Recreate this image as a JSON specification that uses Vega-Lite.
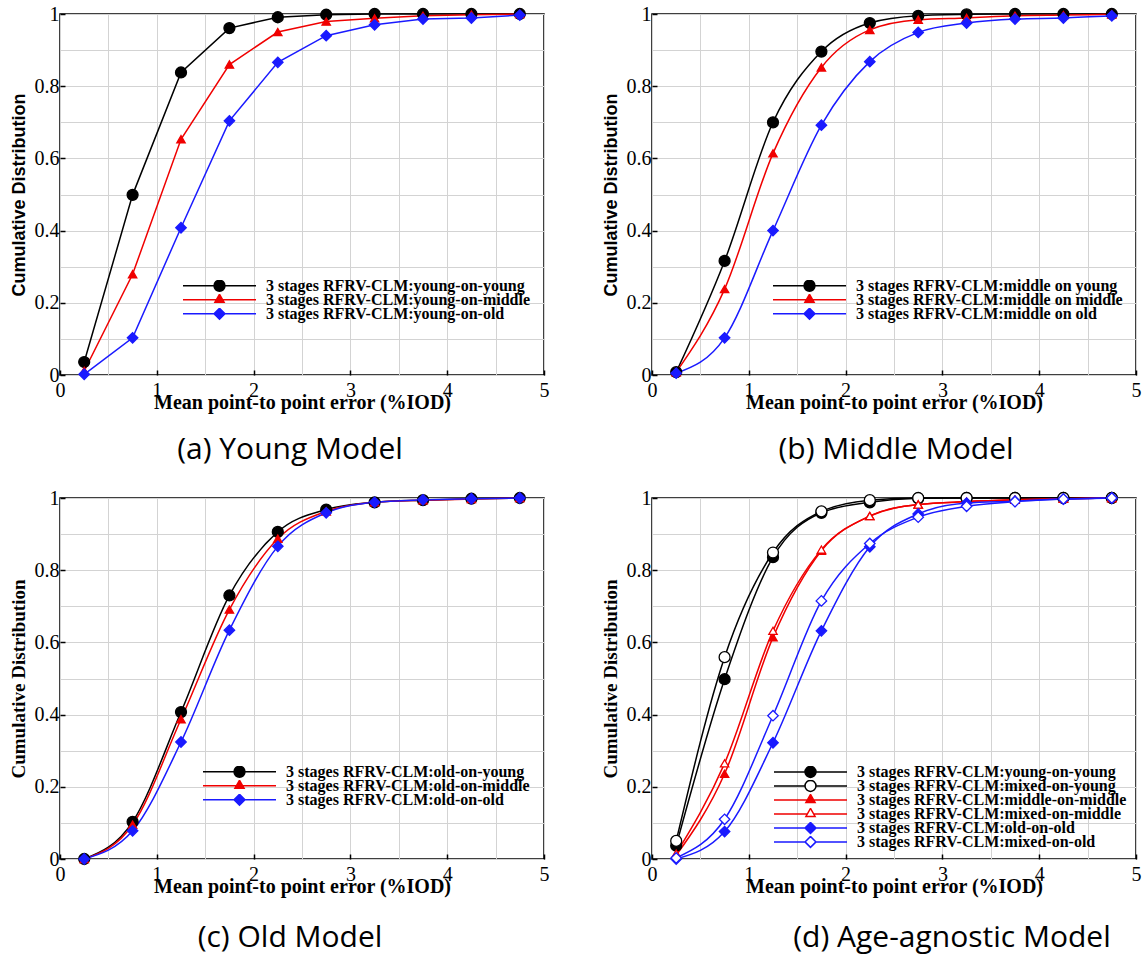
{
  "$schema": "https://vega.github.io/schema/vega-lite/v6.json",
  "background": "white",
  "padding": {"left": 8, "top": 3, "right": 0, "bottom": 10},
  "columns": 2,
  "spacing": {"row": 21, "column": 50},
  "datasets": {
    "a": [
      {"s":"young-on-young","x":0.25,"y":0.036},{"s":"young-on-young","x":0.75,"y":0.499},{"s":"young-on-young","x":1.25,"y":0.838},{"s":"young-on-young","x":1.75,"y":0.961},{"s":"young-on-young","x":2.25,"y":0.991},{"s":"young-on-young","x":2.75,"y":0.998},{"s":"young-on-young","x":3.25,"y":1.0},{"s":"young-on-young","x":3.75,"y":1.0},{"s":"young-on-young","x":4.25,"y":1.0},{"s":"young-on-young","x":4.75,"y":1.0},
      {"s":"young-on-middle","x":0.25,"y":0.011},{"s":"young-on-middle","x":0.75,"y":0.279},{"s":"young-on-middle","x":1.25,"y":0.653},{"s":"young-on-middle","x":1.75,"y":0.86},{"s":"young-on-middle","x":2.25,"y":0.95},{"s":"young-on-middle","x":2.75,"y":0.979},{"s":"young-on-middle","x":3.25,"y":0.988},{"s":"young-on-middle","x":3.75,"y":0.995},{"s":"young-on-middle","x":4.25,"y":0.998},{"s":"young-on-middle","x":4.75,"y":1.0},
      {"s":"young-on-old","x":0.25,"y":0.002},{"s":"young-on-old","x":0.75,"y":0.103},{"s":"young-on-old","x":1.25,"y":0.408},{"s":"young-on-old","x":1.75,"y":0.704},{"s":"young-on-old","x":2.25,"y":0.866},{"s":"young-on-old","x":2.75,"y":0.94},{"s":"young-on-old","x":3.25,"y":0.97},{"s":"young-on-old","x":3.75,"y":0.986},{"s":"young-on-old","x":4.25,"y":0.989},{"s":"young-on-old","x":4.75,"y":0.997}
    ],
    "b": [
      {"s":"middle on young","x":0.25,"y":0.008},{"s":"middle on young","x":0.75,"y":0.316},{"s":"middle on young","x":1.25,"y":0.70},{"s":"middle on young","x":1.75,"y":0.896},{"s":"middle on young","x":2.25,"y":0.975},{"s":"middle on young","x":2.75,"y":0.995},{"s":"middle on young","x":3.25,"y":0.999},{"s":"middle on young","x":3.75,"y":1.0},{"s":"middle on young","x":4.25,"y":1.0},{"s":"middle on young","x":4.75,"y":1.0},
      {"s":"middle on middle","x":0.25,"y":0.008},{"s":"middle on middle","x":0.75,"y":0.238},{"s":"middle on middle","x":1.25,"y":0.614},{"s":"middle on middle","x":1.75,"y":0.852},{"s":"middle on middle","x":2.25,"y":0.956},{"s":"middle on middle","x":2.75,"y":0.984},{"s":"middle on middle","x":3.25,"y":0.989},{"s":"middle on middle","x":3.75,"y":0.995},{"s":"middle on middle","x":4.25,"y":0.997},{"s":"middle on middle","x":4.75,"y":0.999},
      {"s":"middle on old","x":0.25,"y":0.005},{"s":"middle on old","x":0.75,"y":0.103},{"s":"middle on old","x":1.25,"y":0.40},{"s":"middle on old","x":1.75,"y":0.692},{"s":"middle on old","x":2.25,"y":0.868},{"s":"middle on old","x":2.75,"y":0.949},{"s":"middle on old","x":3.25,"y":0.975},{"s":"middle on old","x":3.75,"y":0.986},{"s":"middle on old","x":4.25,"y":0.989},{"s":"middle on old","x":4.75,"y":0.995}
    ],
    "c": [
      {"s":"old-on-young","x":0.25,"y":0.0},{"s":"old-on-young","x":0.75,"y":0.103},{"s":"old-on-young","x":1.25,"y":0.407},{"s":"old-on-young","x":1.75,"y":0.73},{"s":"old-on-young","x":2.25,"y":0.906},{"s":"old-on-young","x":2.75,"y":0.968},{"s":"old-on-young","x":3.25,"y":0.988},{"s":"old-on-young","x":3.75,"y":0.994},{"s":"old-on-young","x":4.25,"y":0.998},{"s":"old-on-young","x":4.75,"y":1.0},
      {"s":"old-on-middle","x":0.25,"y":0.0},{"s":"old-on-middle","x":0.75,"y":0.095},{"s":"old-on-middle","x":1.25,"y":0.387},{"s":"old-on-middle","x":1.75,"y":0.691},{"s":"old-on-middle","x":2.25,"y":0.887},{"s":"old-on-middle","x":2.75,"y":0.963},{"s":"old-on-middle","x":3.25,"y":0.988},{"s":"old-on-middle","x":3.75,"y":0.994},{"s":"old-on-middle","x":4.25,"y":0.997},{"s":"old-on-middle","x":4.75,"y":1.0},
      {"s":"old-on-old","x":0.25,"y":0.0},{"s":"old-on-old","x":0.75,"y":0.078},{"s":"old-on-old","x":1.25,"y":0.324},{"s":"old-on-old","x":1.75,"y":0.634},{"s":"old-on-old","x":2.25,"y":0.866},{"s":"old-on-old","x":2.75,"y":0.959},{"s":"old-on-old","x":3.25,"y":0.988},{"s":"old-on-old","x":3.75,"y":0.995},{"s":"old-on-old","x":4.25,"y":0.998},{"s":"old-on-old","x":4.75,"y":1.0}
    ],
    "d": [
      {"s":"young-on-young","x":0.25,"y":0.037},{"s":"young-on-young","x":0.75,"y":0.498},{"s":"young-on-young","x":1.25,"y":0.836},{"s":"young-on-young","x":1.75,"y":0.959},{"s":"young-on-young","x":2.25,"y":0.988},{"s":"young-on-young","x":2.75,"y":0.999},{"s":"young-on-young","x":3.25,"y":1.0},{"s":"young-on-young","x":3.75,"y":1.0},{"s":"young-on-young","x":4.25,"y":1.0},{"s":"young-on-young","x":4.75,"y":1.0},
      {"s":"mixed-on-young","x":0.25,"y":0.05},{"s":"mixed-on-young","x":0.75,"y":0.559},{"s":"mixed-on-young","x":1.25,"y":0.849},{"s":"mixed-on-young","x":1.75,"y":0.963},{"s":"mixed-on-young","x":2.25,"y":0.994},{"s":"mixed-on-young","x":2.75,"y":1.0},{"s":"mixed-on-young","x":3.25,"y":1.0},{"s":"mixed-on-young","x":3.75,"y":1.0},{"s":"mixed-on-young","x":4.25,"y":1.0},{"s":"mixed-on-young","x":4.75,"y":1.0},
      {"s":"middle-on-middle","x":0.25,"y":0.01},{"s":"middle-on-middle","x":0.75,"y":0.236},{"s":"middle-on-middle","x":1.25,"y":0.614},{"s":"middle-on-middle","x":1.75,"y":0.854},{"s":"middle-on-middle","x":2.25,"y":0.95},{"s":"middle-on-middle","x":2.75,"y":0.982},{"s":"middle-on-middle","x":3.25,"y":0.99},{"s":"middle-on-middle","x":3.75,"y":0.995},{"s":"middle-on-middle","x":4.25,"y":0.998},{"s":"middle-on-middle","x":4.75,"y":1.0},
      {"s":"mixed-on-middle","x":0.25,"y":0.015},{"s":"mixed-on-middle","x":0.75,"y":0.265},{"s":"mixed-on-middle","x":1.25,"y":0.632},{"s":"mixed-on-middle","x":1.75,"y":0.857},{"s":"mixed-on-middle","x":2.25,"y":0.95},{"s":"mixed-on-middle","x":2.75,"y":0.982},{"s":"mixed-on-middle","x":3.25,"y":0.99},{"s":"mixed-on-middle","x":3.75,"y":0.995},{"s":"mixed-on-middle","x":4.25,"y":0.998},{"s":"mixed-on-middle","x":4.75,"y":1.0},
      {"s":"old-on-old","x":0.25,"y":0.0},{"s":"old-on-old","x":0.75,"y":0.076},{"s":"old-on-old","x":1.25,"y":0.322},{"s":"old-on-old","x":1.75,"y":0.632},{"s":"old-on-old","x":2.25,"y":0.865},{"s":"old-on-old","x":2.75,"y":0.956},{"s":"old-on-old","x":3.25,"y":0.986},{"s":"old-on-old","x":3.75,"y":0.991},{"s":"old-on-old","x":4.25,"y":0.997},{"s":"old-on-old","x":4.75,"y":1.0},
      {"s":"mixed-on-old","x":0.25,"y":0.003},{"s":"mixed-on-old","x":0.75,"y":0.11},{"s":"mixed-on-old","x":1.25,"y":0.397},{"s":"mixed-on-old","x":1.75,"y":0.715},{"s":"mixed-on-old","x":2.25,"y":0.874},{"s":"mixed-on-old","x":2.75,"y":0.947},{"s":"mixed-on-old","x":3.25,"y":0.977},{"s":"mixed-on-old","x":3.75,"y":0.99},{"s":"mixed-on-old","x":4.25,"y":0.997},{"s":"mixed-on-old","x":4.75,"y":1.0}
    ]
  },
  "concat": [
    {
      "width": 484, "height": 361,
      "data": {"name": "a"},
      "title": {"text": "(a) Young Model", "orient": "bottom", "dx": -12, "offset": 23},
      "encoding": {
        "x": {"field": "x", "type": "quantitative", "scale": {"domain": [0, 5], "nice": false, "zero": false},
              "axis": {"title": "Mean point-to point error (%IOD)", "values": [0,0.5,1,1.5,2,2.5,3,3.5,4,4.5,5], "labelExpr": "datum.value % 1 == 0 ? format(datum.value, 'd') : ''", "tickOpacity": {"condition": {"test": "datum.value % 1 == 0", "value": 1}, "value": 0}, "labelFlush": false, "labelOverlap": false, "labelPadding": 10, "titlePadding": -8}},
        "y": {"field": "y", "type": "quantitative", "scale": {"domain": [0, 1], "nice": false},
              "axis": {"title": "Cumulative Distribution", "titleFont": "Liberation Sans", "titleFontSize": 18, "values": [0,0.1,0.2,0.3,0.4,0.5,0.6,0.7,0.8,0.9,1], "labelExpr": "round(datum.value*10) % 2 == 0 ? format(datum.value, '~g') : ''", "tickOpacity": {"condition": {"test": "round(datum.value*10) % 2 == 0", "value": 1}, "value": 0}, "labelOverlap": false, "titlePadding": 6}}
      },
      "layer": [
        {"mark": {"type": "line", "strokeWidth": 1.5, "interpolate": "linear"},
         "encoding": {"color": {"field": "s", "type": "nominal",
           "scale": {"domain": ["young-on-young","young-on-middle","young-on-old"], "range": ["#000000","#f00000","#1a1aff"]},
           "legend": {"title": null, "orient": "none", "legendX": 122, "legendY": 266, "clipHeight": 11.5, "rowPadding": -4.5, "padding": 0, "symbolSize": 5329, "symbolStrokeWidth": 1.5, "labelOffset": 9, "labelLimit": 0,
             "labelExpr": "'3 stages RFRV-CLM:' + datum.label",
             "encode": {"symbols": {"update": {
               "shape": {"signal": "['M-1,0H-0.15M0.15,0H1M-0.15,0A0.15,0.15,0,1,1,0.15,0A0.15,0.15,0,1,1,-0.15,0Z','M-1,0H-0.08M0.08,0H1M0,-0.15L0.125,0.07L-0.125,0.07Z','M-1,0H-0.15M0.15,0H1M0,-0.15L0.15,0L0,0.15L-0.15,0Z'][datum.index]"},
               "size": {"value": 5329},
               "fill": {"signal": "['#000000','#f00000','#1a1aff'][datum.index]"},
               "stroke": {"signal": "['#000000','#f00000','#1a1aff'][datum.index]"},
               "strokeWidth": {"value": 1.5},
               "opacity": {"value": 1}}}}}}}},
        {"transform": [{"filter": "datum.s == 'young-on-young'"}], "mark": {"type": "point", "shape": "circle", "filled": true, "fill": "#000000", "stroke": "#000000", "strokeWidth": 1.3, "size": 120, "opacity": 1}},
        {"transform": [{"filter": "datum.s == 'young-on-middle'"}], "mark": {"type": "point", "shape": "triangle-up", "filled": true, "fill": "#f00000", "stroke": "#f00000", "strokeWidth": 1.3, "size": 70, "opacity": 1}},
        {"transform": [{"filter": "datum.s == 'young-on-old'"}], "mark": {"type": "point", "shape": "diamond", "filled": true, "fill": "#1a1aff", "stroke": "#1a1aff", "strokeWidth": 1.3, "size": 110, "opacity": 1}}
      ]
    },
    {
      "width": 484, "height": 361,
      "data": {"name": "b"},
      "title": {"text": "(b) Middle Model", "orient": "bottom", "dx": 2, "offset": 23},
      "encoding": {
        "x": {"field": "x", "type": "quantitative", "scale": {"domain": [0, 5], "nice": false, "zero": false},
              "axis": {"title": "Mean point-to point error (%IOD)", "values": [0,0.5,1,1.5,2,2.5,3,3.5,4,4.5,5], "labelExpr": "datum.value % 1 == 0 ? format(datum.value, 'd') : ''", "tickOpacity": {"condition": {"test": "datum.value % 1 == 0", "value": 1}, "value": 0}, "labelFlush": false, "labelOverlap": false, "labelPadding": 10, "titlePadding": -8}},
        "y": {"field": "y", "type": "quantitative", "scale": {"domain": [0, 1], "nice": false},
              "axis": {"title": "Cumulative Distribution", "titleFont": "Liberation Sans", "titleFontSize": 18, "values": [0,0.1,0.2,0.3,0.4,0.5,0.6,0.7,0.8,0.9,1], "labelExpr": "round(datum.value*10) % 2 == 0 ? format(datum.value, '~g') : ''", "tickOpacity": {"condition": {"test": "round(datum.value*10) % 2 == 0", "value": 1}, "value": 0}, "labelOverlap": false, "titlePadding": 6}}
      },
      "layer": [
        {"mark": {"type": "line", "strokeWidth": 1.5, "interpolate": "monotone"},
         "encoding": {"color": {"field": "s", "type": "nominal",
           "scale": {"domain": ["middle on young","middle on middle","middle on old"], "range": ["#000000","#f00000","#1a1aff"]},
           "legend": {"title": null, "orient": "none", "legendX": 120, "legendY": 266, "clipHeight": 11.5, "rowPadding": -4.5, "padding": 0, "symbolSize": 5329, "symbolStrokeWidth": 1.5, "labelOffset": 9, "labelLimit": 0,
             "labelExpr": "'3 stages RFRV-CLM:' + datum.label",
             "encode": {"symbols": {"update": {
               "shape": {"signal": "['M-1,0H-0.15M0.15,0H1M-0.15,0A0.15,0.15,0,1,1,0.15,0A0.15,0.15,0,1,1,-0.15,0Z','M-1,0H-0.08M0.08,0H1M0,-0.15L0.125,0.07L-0.125,0.07Z','M-1,0H-0.15M0.15,0H1M0,-0.15L0.15,0L0,0.15L-0.15,0Z'][datum.index]"},
               "size": {"value": 5329},
               "fill": {"signal": "['#000000','#f00000','#1a1aff'][datum.index]"},
               "stroke": {"signal": "['#000000','#f00000','#1a1aff'][datum.index]"},
               "strokeWidth": {"value": 1.5},
               "opacity": {"value": 1}}}}}}}},
        {"transform": [{"filter": "datum.s == 'middle on young'"}], "mark": {"type": "point", "shape": "circle", "filled": true, "fill": "#000000", "stroke": "#000000", "strokeWidth": 1.3, "size": 120, "opacity": 1}},
        {"transform": [{"filter": "datum.s == 'middle on middle'"}], "mark": {"type": "point", "shape": "triangle-up", "filled": true, "fill": "#f00000", "stroke": "#f00000", "strokeWidth": 1.3, "size": 70, "opacity": 1}},
        {"transform": [{"filter": "datum.s == 'middle on old'"}], "mark": {"type": "point", "shape": "diamond", "filled": true, "fill": "#1a1aff", "stroke": "#1a1aff", "strokeWidth": 1.3, "size": 110, "opacity": 1}}
      ]
    },
    {
      "width": 484, "height": 361,
      "data": {"name": "c"},
      "title": {"text": "(c) Old Model", "orient": "bottom", "dx": -12, "offset": 27},
      "encoding": {
        "x": {"field": "x", "type": "quantitative", "scale": {"domain": [0, 5], "nice": false, "zero": false},
              "axis": {"title": "Mean point-to point error (%IOD)", "values": [0,0.5,1,1.5,2,2.5,3,3.5,4,4.5,5], "labelExpr": "datum.value % 1 == 0 ? format(datum.value, 'd') : ''", "tickOpacity": {"condition": {"test": "datum.value % 1 == 0", "value": 1}, "value": 0}, "labelFlush": false, "labelOverlap": false, "labelPadding": 10, "titlePadding": -8}},
        "y": {"field": "y", "type": "quantitative", "scale": {"domain": [0, 1], "nice": false},
              "axis": {"title": "Cumulative Distribution", "titleFontSize": 19, "values": [0,0.1,0.2,0.3,0.4,0.5,0.6,0.7,0.8,0.9,1], "labelExpr": "round(datum.value*10) % 2 == 0 ? format(datum.value, '~g') : ''", "tickOpacity": {"condition": {"test": "round(datum.value*10) % 2 == 0", "value": 1}, "value": 0}, "labelOverlap": false, "titlePadding": 6}}
      },
      "layer": [
        {"mark": {"type": "line", "strokeWidth": 1.5, "interpolate": "monotone"},
         "encoding": {"color": {"field": "s", "type": "nominal",
           "scale": {"domain": ["old-on-young","old-on-middle","old-on-old"], "range": ["#000000","#f00000","#1a1aff"]},
           "legend": {"title": null, "orient": "none", "legendX": 142, "legendY": 268, "clipHeight": 11.5, "rowPadding": -4.5, "padding": 0, "symbolSize": 5329, "symbolStrokeWidth": 1.5, "labelOffset": 9, "labelLimit": 0,
             "labelExpr": "'3 stages RFRV-CLM:' + datum.label",
             "encode": {"symbols": {"update": {
               "shape": {"signal": "['M-1,0H-0.15M0.15,0H1M-0.15,0A0.15,0.15,0,1,1,0.15,0A0.15,0.15,0,1,1,-0.15,0Z','M-1,0H-0.08M0.08,0H1M0,-0.15L0.125,0.07L-0.125,0.07Z','M-1,0H-0.15M0.15,0H1M0,-0.15L0.15,0L0,0.15L-0.15,0Z'][datum.index]"},
               "size": {"value": 5329},
               "fill": {"signal": "['#000000','#f00000','#1a1aff'][datum.index]"},
               "stroke": {"signal": "['#000000','#f00000','#1a1aff'][datum.index]"},
               "strokeWidth": {"value": 1.5},
               "opacity": {"value": 1}}}}}}}},
        {"transform": [{"filter": "datum.s == 'old-on-young'"}], "mark": {"type": "point", "shape": "circle", "filled": true, "fill": "#000000", "stroke": "#000000", "strokeWidth": 1.3, "size": 120, "opacity": 1}},
        {"transform": [{"filter": "datum.s == 'old-on-middle'"}], "mark": {"type": "point", "shape": "triangle-up", "filled": true, "fill": "#f00000", "stroke": "#f00000", "strokeWidth": 1.3, "size": 70, "opacity": 1}},
        {"transform": [{"filter": "datum.s == 'old-on-old'"}], "mark": {"type": "point", "shape": "diamond", "filled": true, "fill": "#1a1aff", "stroke": "#1a1aff", "strokeWidth": 1.3, "size": 110, "opacity": 1}}
      ]
    },
    {
      "width": 484, "height": 361,
      "data": {"name": "d"},
      "title": {"text": "(d) Age-agnostic Model", "orient": "bottom", "dx": 58, "offset": 27},
      "encoding": {
        "x": {"field": "x", "type": "quantitative", "scale": {"domain": [0, 5], "nice": false, "zero": false},
              "axis": {"title": "Mean point-to point error (%IOD)", "values": [0,0.5,1,1.5,2,2.5,3,3.5,4,4.5,5], "labelExpr": "datum.value % 1 == 0 ? format(datum.value, 'd') : ''", "tickOpacity": {"condition": {"test": "datum.value % 1 == 0", "value": 1}, "value": 0}, "labelFlush": false, "labelOverlap": false, "labelPadding": 10, "titlePadding": -8}},
        "y": {"field": "y", "type": "quantitative", "scale": {"domain": [0, 1], "nice": false},
              "axis": {"title": "Cumulative Distribution", "titleFontSize": 19, "values": [0,0.1,0.2,0.3,0.4,0.5,0.6,0.7,0.8,0.9,1], "labelExpr": "round(datum.value*10) % 2 == 0 ? format(datum.value, '~g') : ''", "tickOpacity": {"condition": {"test": "round(datum.value*10) % 2 == 0", "value": 1}, "value": 0}, "labelOverlap": false, "titlePadding": 6}}
      },
      "layer": [
        {"mark": {"type": "line", "strokeWidth": 1.5, "interpolate": "monotone"},
         "encoding": {"color": {"field": "s", "type": "nominal",
           "scale": {"domain": ["young-on-young","mixed-on-young","middle-on-middle","mixed-on-middle","old-on-old","mixed-on-old"], "range": ["#000000","#000000","#f00000","#f00000","#1a1aff","#1a1aff"]},
           "legend": {"title": null, "orient": "none", "legendX": 121, "legendY": 268, "clipHeight": 11.8, "rowPadding": -4.5, "padding": 0, "symbolSize": 5329, "symbolStrokeWidth": 1.5, "labelOffset": 9, "labelLimit": 0,
             "labelExpr": "'3 stages RFRV-CLM:' + datum.label",
             "encode": {"symbols": {"update": {
               "shape": {"signal": "['M-1,0H-0.15M0.15,0H1M-0.15,0A0.15,0.15,0,1,1,0.15,0A0.15,0.15,0,1,1,-0.15,0Z','M-1,0H-0.15M0.15,0H1M-0.15,0A0.15,0.15,0,1,1,0.15,0A0.15,0.15,0,1,1,-0.15,0Z','M-1,0H-0.08M0.08,0H1M0,-0.15L0.125,0.07L-0.125,0.07Z','M-1,0H-0.08M0.08,0H1M0,-0.15L0.125,0.07L-0.125,0.07Z','M-1,0H-0.15M0.15,0H1M0,-0.15L0.15,0L0,0.15L-0.15,0Z','M-1,0H-0.15M0.15,0H1M0,-0.15L0.15,0L0,0.15L-0.15,0Z'][datum.index]"},
               "size": {"value": 5329},
               "fill": {"signal": "['#000000','#ffffff','#f00000','#ffffff','#1a1aff','#ffffff'][datum.index]"},
               "stroke": {"signal": "['#000000','#000000','#f00000','#f00000','#1a1aff','#1a1aff'][datum.index]"},
               "strokeWidth": {"value": 1.5},
               "opacity": {"value": 1}}}}}}}},
        {"transform": [{"filter": "datum.s == 'young-on-young'"}], "mark": {"type": "point", "shape": "circle", "filled": true, "fill": "#000000", "stroke": "#000000", "strokeWidth": 1.3, "size": 120, "opacity": 1}},
        {"transform": [{"filter": "datum.s == 'mixed-on-young'"}], "mark": {"type": "point", "shape": "circle", "filled": true, "fill": "#ffffff", "stroke": "#000000", "strokeWidth": 1.3, "size": 120, "opacity": 1}},
        {"transform": [{"filter": "datum.s == 'middle-on-middle'"}], "mark": {"type": "point", "shape": "triangle-up", "filled": true, "fill": "#f00000", "stroke": "#f00000", "strokeWidth": 1.3, "size": 70, "opacity": 1}},
        {"transform": [{"filter": "datum.s == 'mixed-on-middle'"}], "mark": {"type": "point", "shape": "triangle-up", "filled": true, "fill": "#ffffff", "stroke": "#f00000", "strokeWidth": 1.3, "size": 70, "opacity": 1}},
        {"transform": [{"filter": "datum.s == 'old-on-old'"}], "mark": {"type": "point", "shape": "diamond", "filled": true, "fill": "#1a1aff", "stroke": "#1a1aff", "strokeWidth": 1.3, "size": 110, "opacity": 1}},
        {"transform": [{"filter": "datum.s == 'mixed-on-old'"}], "mark": {"type": "point", "shape": "diamond", "filled": true, "fill": "#ffffff", "stroke": "#1a1aff", "strokeWidth": 1.3, "size": 110, "opacity": 1}}
      ]
    }
  ],
  "resolve": {
    "scale": {"color": "independent"},
    "legend": {"color": "independent"}
  },
  "config": {
    "view": {"stroke": "#000000", "strokeWidth": 1.5},
    "axis": {
      "labelFont": "Liberation Serif", "labelFontSize": 20, "labelColor": "#000000",
      "titleFont": "Liberation Serif", "titleFontWeight": "bold", "titleFontSize": 20, "titleColor": "#000000",
      "gridColor": "#d3d3d3", "gridWidth": 1, "domain": false,
      "ticks": true, "tickColor": "#000000", "tickSize": -5, "tickWidth": 1.5, "labelPadding": 6
    },
    "legend": {"labelFont": "Liberation Serif", "labelFontWeight": "bold", "labelFontSize": 16, "labelColor": "#000000"},
    "title": {"font": "Open Sans", "fontSize": 30, "fontWeight": "normal", "color": "#000000"}
  }
}
